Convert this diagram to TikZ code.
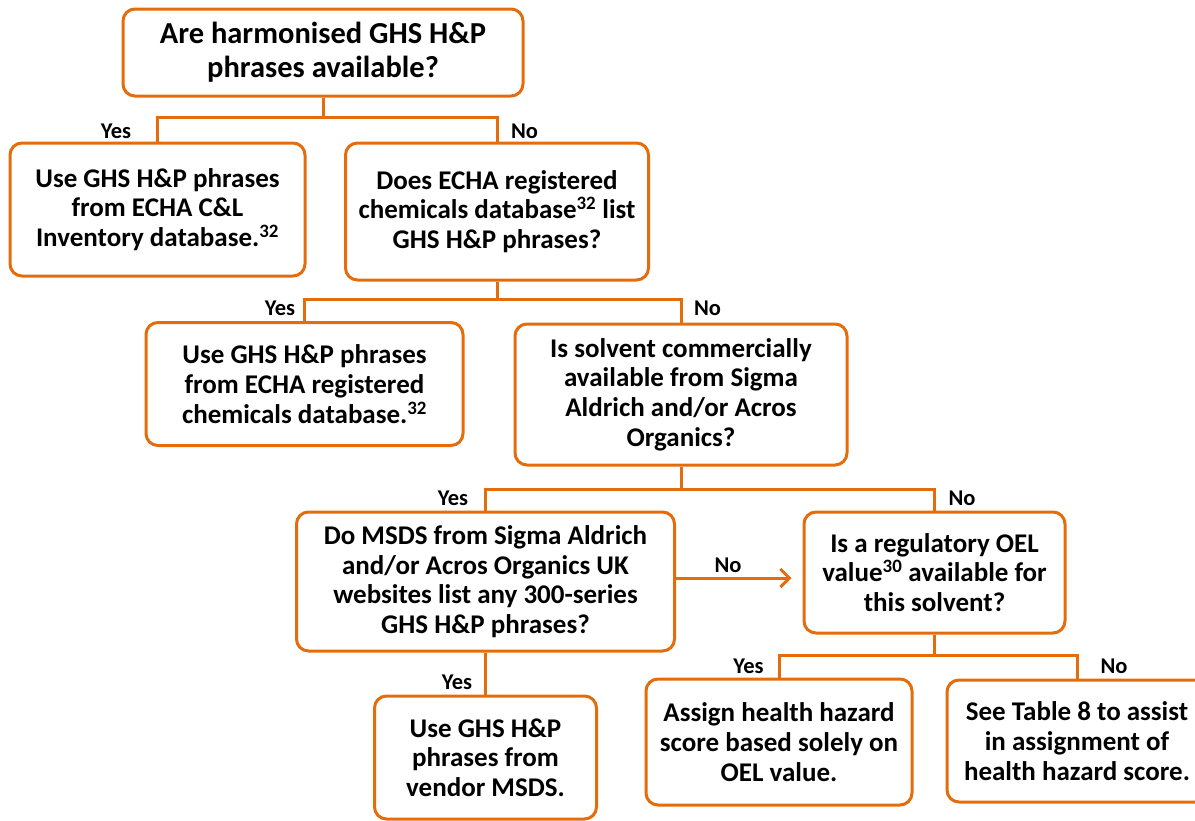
\documentclass[tikz,border=0pt]{standalone}
\usepackage{fontspec}
\setmainfont{Carlito}
\usetikzlibrary{arrows.meta}
\definecolor{org}{RGB}{228,108,10}
\begin{document}
\begin{tikzpicture}[x=1pt,y=-1pt,
  box/.style={draw=org, line width=3pt, rounded corners=12pt, align=center, inner sep=0pt,
    font=\bfseries\fontsize{27}{29.7}\selectfont, text=black},
  bigbox/.style={box, font=\bfseries\fontsize{30.5}{34}\selectfont},
  lbl/.style={font=\bfseries\fontsize{22.5}{24}\selectfont, inner sep=0pt, text=black},
  conn/.style={draw=org, line width=3pt}]
\useasboundingbox (0,0) rectangle (1195,820);

\node[bigbox, minimum width=400pt, minimum height=87pt] (q1) at (323,52.5)
  {Are harmonised GHS H\&P\\phrases available?};
\node[box, minimum width=295pt, minimum height=133pt] (a1) at (157.5,209.5)
  {Use GHS H\&P phrases\\from ECHA C\&L\\Inventory database.\textsuperscript{32}};
\node[box, minimum width=303pt, minimum height=137pt] (q2) at (497,211.5)
  {Does ECHA registered\\chemicals database\textsuperscript{32} list\\GHS H\&P phrases?};
\node[box, minimum width=317pt, minimum height=123pt] (a2) at (304.5,384)
  {Use GHS H\&P phrases\\from ECHA registered\\chemicals database.\textsuperscript{32}};
\node[box, minimum width=332pt, minimum height=141pt] (q3) at (681,394.5)
  {Is solvent commercially\\available from Sigma\\Aldrich and/or Acros\\Organics?};
\node[box, minimum width=378pt, minimum height=139pt] (q4) at (485.5,581.5)
  {Do MSDS from Sigma Aldrich\\and/or Acros Organics UK\\websites list any 300-series\\GHS H\&P phrases?};
\node[box, minimum width=261pt, minimum height=121pt] (q5) at (934.5,572.5)
  {Is a regulatory OEL\\value\textsuperscript{30} available for\\this solvent?};
\node[box, minimum width=222pt, minimum height=123pt] (a3) at (485.5,757.5)
  {Use GHS H\&P\\phrases from\\vendor MSDS.};
\node[box, minimum width=266pt, minimum height=126pt] (a4) at (779,742)
  {Assign health hazard\\score based solely on\\OEL value.};
\node[box, minimum width=260pt, minimum height=122pt] (a5) at (1077,741)
  {See Table 8 to assist\\in assignment of\\health hazard score.};

\coordinate (j1) at (323,117);
\coordinate (j2) at (497,299);
\coordinate (j3) at (681,489);
\coordinate (j5) at (934.5,655);

\draw[conn] (q1.south) -- (j1) -| (a1.north);
\draw[conn] (j1) -| (q2.north);
\draw[conn] (q2.south) -- (j2) -| (a2.north);
\draw[conn] (j2) -| (q3.north);
\draw[conn] (q3.south) -- (j3) -| (q4.north);
\draw[conn] (j3) -| (q5.north);
\draw[conn] (q4.south) -- (a3.north);
\draw[conn] (q5.south) -- (j5) -| (a4.north);
\draw[conn] (j5) -| (a5.north);
\draw[conn, -{Straight Barb[length=9pt,width=18pt,line width=3pt]}, shorten >=11pt] (q4.east |- 0,578) -- (q5.west |- 0,578);

\node[lbl] (y1) at (116,131) {Yes};
\node[lbl] (n1) at (524.5,131) {No};
\node[lbl] (y2) at (280,308) {Yes};
\node[lbl] (n2) at (707.5,308) {No};
\node[lbl] (y3) at (453,498) {Yes};
\node[lbl] (n3) at (962,498) {No};
\node[lbl] (n4) at (728,565) {No};
\node[lbl] (y4) at (457,682) {Yes};
\node[lbl] (y5) at (748.5,666) {Yes};
\node[lbl] (n5) at (1114,666) {No};
\end{tikzpicture}
\end{document}
